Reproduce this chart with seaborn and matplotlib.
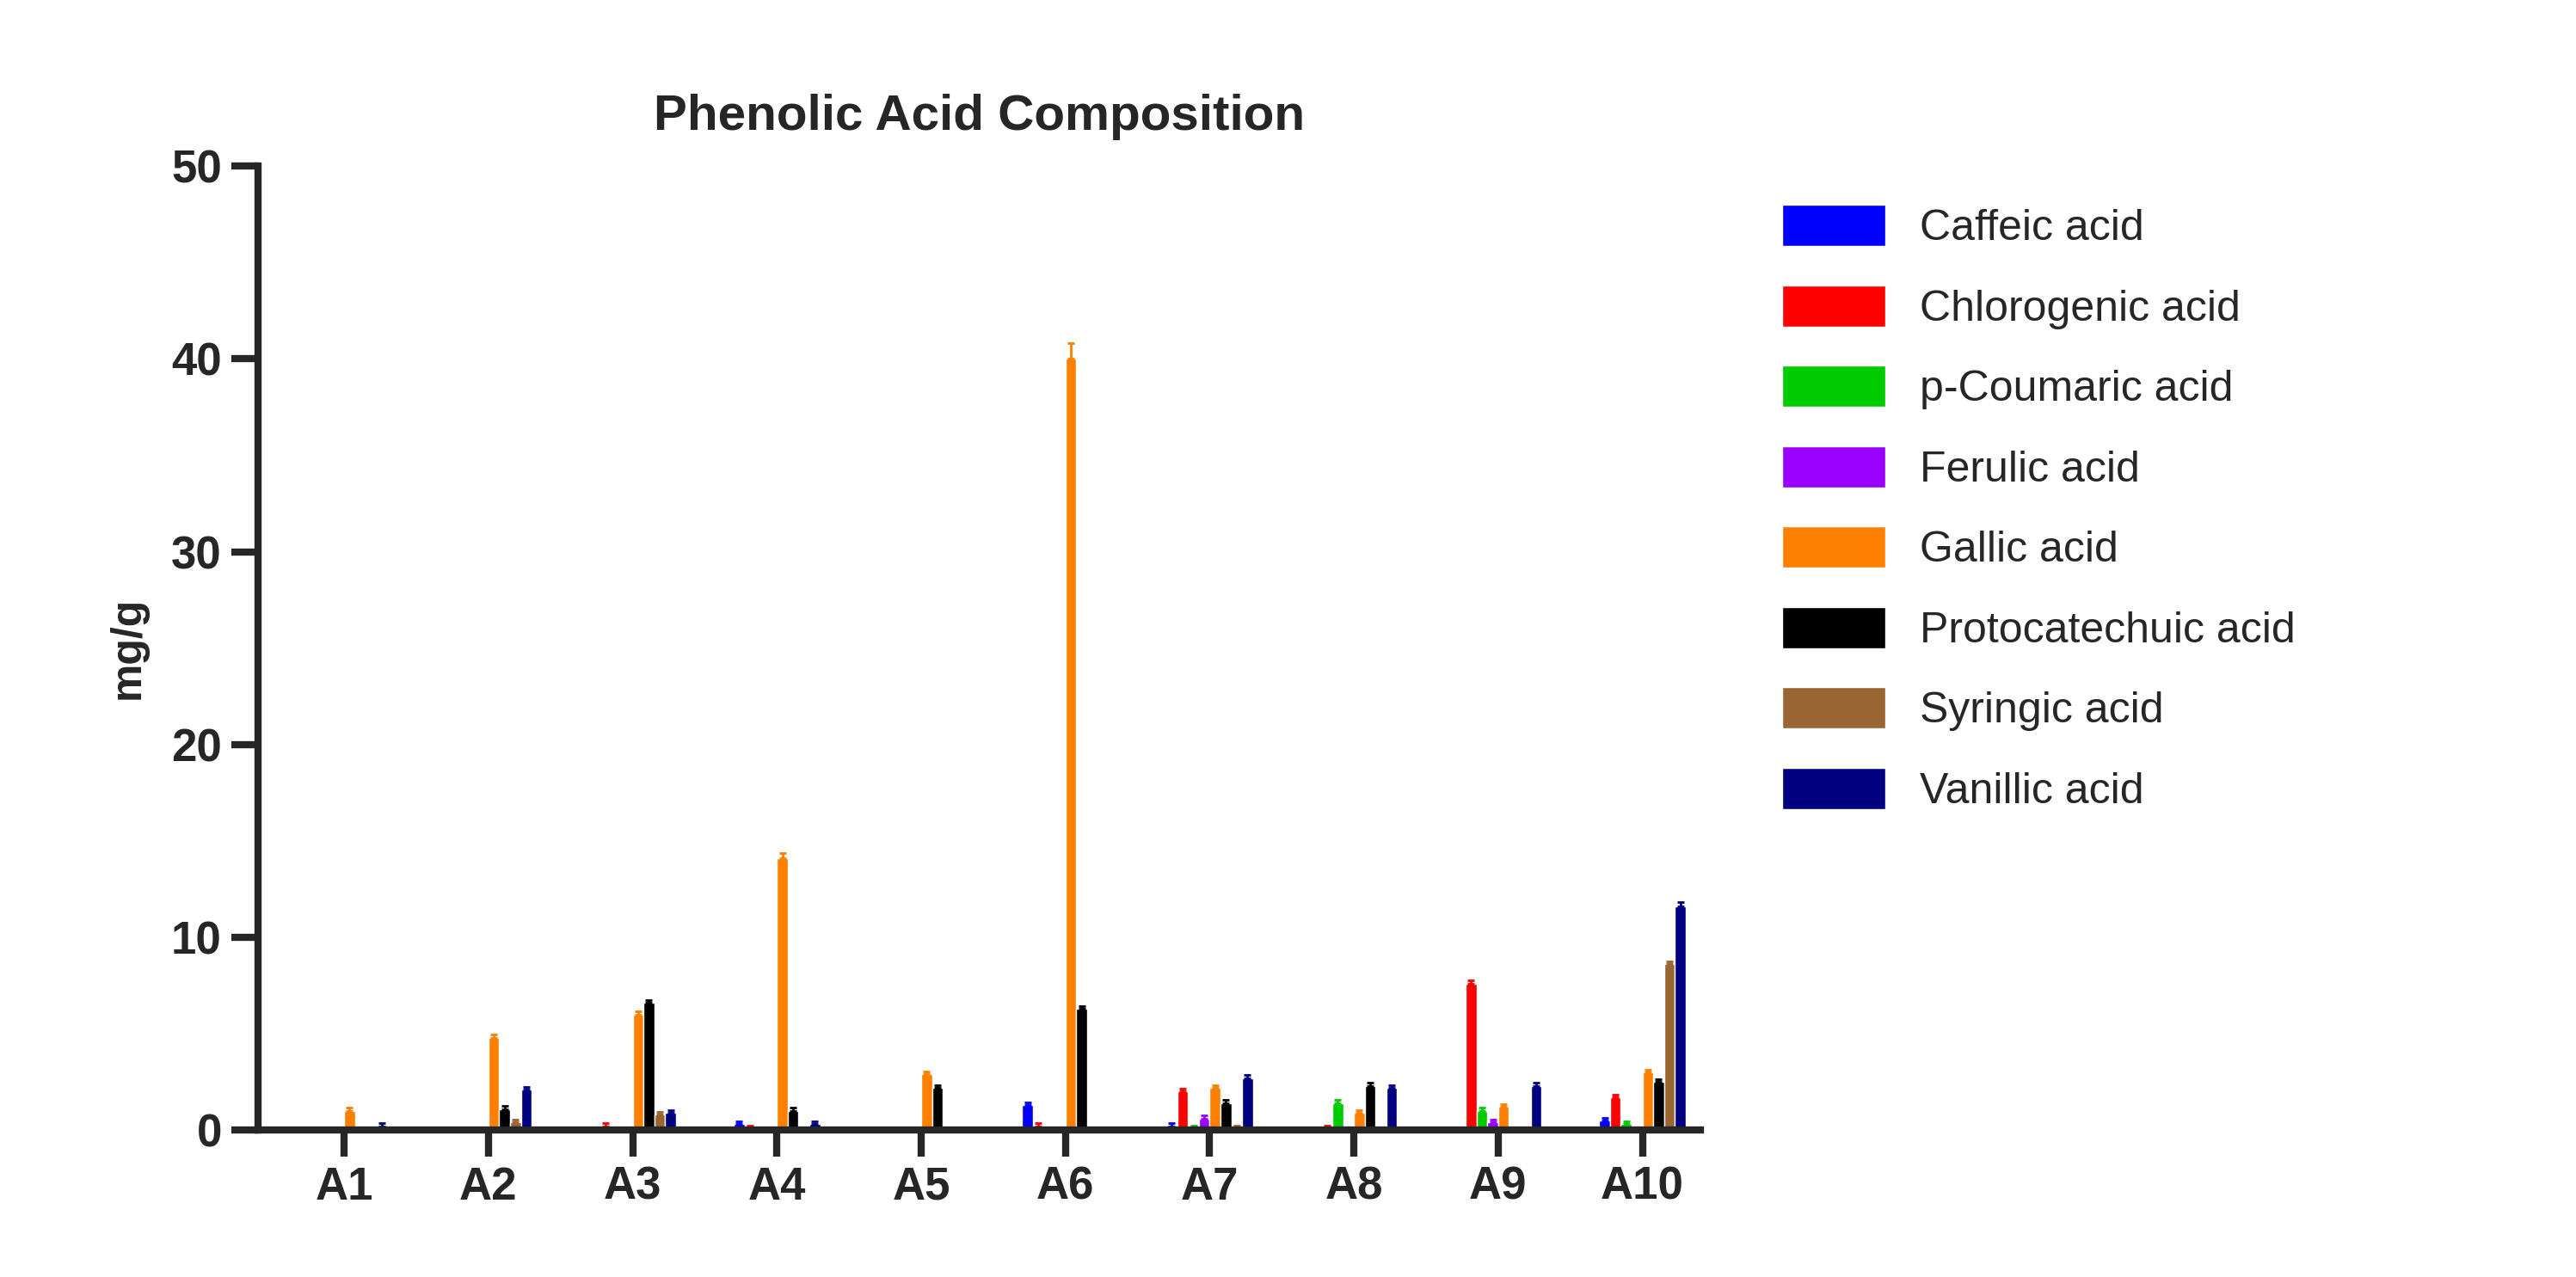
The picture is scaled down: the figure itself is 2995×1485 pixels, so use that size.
import matplotlib
matplotlib.use("Agg")
import matplotlib.pyplot as plt
import seaborn as sns
import pandas as pd
import numpy as np

samples = ["A1","A2","A3","A4","A5","A6","A7","A8","A9","A10"]
acids = ["Caffeic acid","Chlorogenic acid","p-Coumaric acid","Ferulic acid",
         "Gallic acid","Protocatechuic acid","Syringic acid","Vanillic acid"]
colors = ["#0000FF","#FF0000","#00CC00","#9900FF","#FF8000","#000000","#996633","#000080"]
caffeic      = [0.0,0.0,0.0,0.3,0.0,1.3,0.2,0.0,0.0,0.5]
chlorogenic  = [0.0,0.0,0.2,0.1,0.0,0.2,2.0,0.1,7.6,1.7]
coumaric     = [0.0,0.0,0.0,0.0,0.0,0.0,0.1,1.4,1.0,0.3]
ferulic      = [0.0,0.0,0.0,0.0,0.0,0.0,0.6,0.0,0.4,0.0]
gallic       = [1.0,4.8,6.0,14.1,2.9,40.0,2.2,0.9,1.2,3.0]
protocat     = [0.0,1.1,6.6,1.0,2.2,6.3,1.4,2.3,0.0,2.5]
syringic     = [0.0,0.4,0.8,0.0,0.0,0.0,0.1,0.0,0.0,8.6]
vanillic     = [0.2,2.1,0.9,0.3,0.0,0.0,2.7,2.2,2.3,11.6]
series = [caffeic,chlorogenic,coumaric,ferulic,gallic,protocat,syringic,vanillic]

rows = []
for a, vals in zip(acids, series):
    for s, v in zip(samples, vals):
        rows.append({"Sample": s, "Acid": a, "Value": v})
df = pd.DataFrame(rows)

sns.set_style("white")
plt.rcParams['font.family'] = ['Arial', 'Liberation Sans', 'DejaVu Sans']
fig = plt.figure(figsize=(29.95, 14.85), dpi=100)
ax = fig.add_axes([0.10, 0.115, 0.56, 0.755])
sns.barplot(data=df, x="Sample", y="Value", hue="Acid", hue_order=acids,
            palette=colors, errorbar=None, width=0.6, ax=ax, saturation=1, legend=True)
# error bars
bars = [p for cont in list(ax.containers) if hasattr(cont, "patches") for p in cont.patches]
for p in bars:
    h = p.get_height()
    if h > 0.05:
        ax.errorbar(p.get_x()+p.get_width()/2, h, yerr=[[0],[max(0.15, 0.02*h)]],
                    color=p.get_facecolor(), capsize=3, elinewidth=2, capthick=2)
ax.set_ylim(0, 50)
ax.set_xlim(-0.6, 9.4)
ax.set_yticks([0,10,20,30,40,50])
ax.set_xlabel("")
ax.set_ylabel("mg/g", fontsize=36, fontweight="bold", labelpad=20)
ax.set_title("Phenolic Acid Composition", fontsize=42, fontweight="bold", pad=30)
for lab in ax.get_xticklabels()+ax.get_yticklabels():
    lab.set_fontsize(38); lab.set_fontweight("bold")
sns.despine(ax=ax)
for sp in ["left","bottom"]:
    ax.spines[sp].set_linewidth(6)
ax.tick_params(axis="both", width=6, length=22, direction="out", bottom=True, left=True, pad=8)
leg = ax.legend(loc="upper left", bbox_to_anchor=(1.03, 1.0), frameon=False,
                fontsize=36, handlelength=2.4, handleheight=1.1, labelspacing=0.85)
fig.savefig("out.png", dpi=100)
